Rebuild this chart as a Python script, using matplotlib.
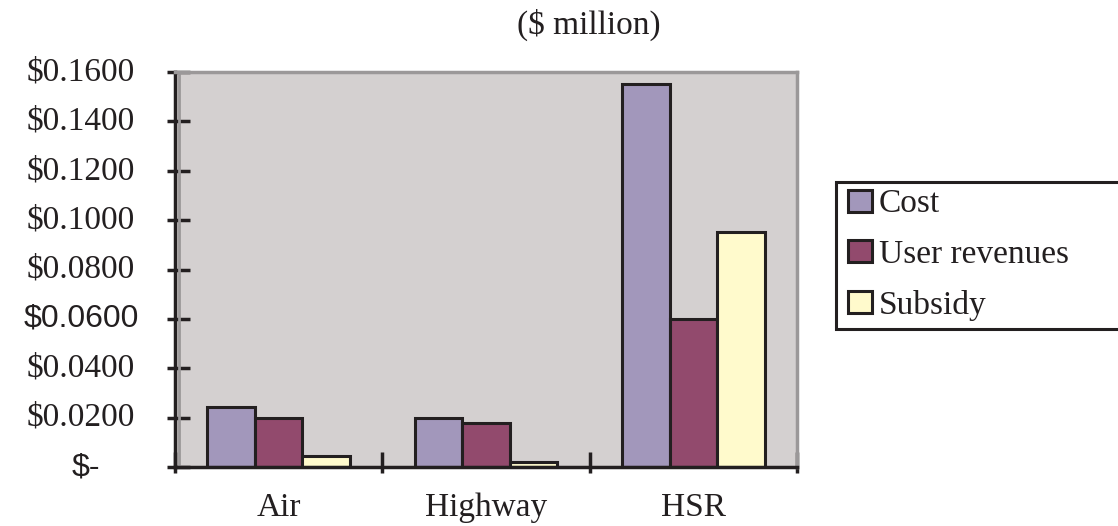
import matplotlib
matplotlib.use("Agg")
import matplotlib.pyplot as plt
import matplotlib.transforms as mtransforms
from matplotlib.patches import Rectangle
import numpy as np

# data ($ million)
categories = ["Air", "Highway", "HSR"]
series = ["Cost", "User revenues", "Subsidy"]
cost = [0.0245, 0.0200, 0.155]
user_revenues = [0.0200, 0.0180, 0.060]
subsidy = [0.0045, 0.0020, 0.095]
yticks = [0.0, 0.02, 0.04, 0.06, 0.08, 0.10, 0.12, 0.14, 0.16]
ytick_labels = ["$-", "$0.0200", "$0.0400", "$0.0600", "$0.0800",
                "$0.1000", "$0.1200", "$0.1400", "$0.1600"]

colors = ["#A297BB", "#924A6D", "#FFFACC"]
ink = "#231F20"
serif = "Liberation Serif"
sans = "Liberation Sans"

fig = plt.figure(figsize=(11.18, 5.26), dpi=100)
ax = fig.add_axes([175 / 1118, 1 - 467 / 526, 622 / 1118, 395 / 526])
ax.set_facecolor("#D4D0D0")

x = np.arange(len(categories))
w = 0.229
for i, (vals, name) in enumerate(zip([cost, user_revenues, subsidy], series)):
    ax.bar(x + (i - 1) * w, vals, w, color=colors[i], edgecolor=ink,
           linewidth=2.2, label=name, zorder=3)

ax.set_xlim(-0.5, 2.5)
ax.set_ylim(0, 0.16)

# spines
for s in ["top", "right"]:
    ax.spines[s].set_color("#9B9899")
    ax.spines[s].set_linewidth(2.5)
for s in ["left", "bottom"]:
    ax.spines[s].set_color(ink)
    ax.spines[s].set_linewidth(2.5)
ax.spines["bottom"].set_zorder(5)
ax.plot([0.006, 0.006], [0, 1], transform=ax.transAxes, color="#9B9899",
        lw=2, zorder=2, clip_on=False)

# y ticks: in + out, labels drawn as text
ax.set_yticks(yticks)
ax.set_yticklabels([])
ax.yaxis.set_minor_locator(matplotlib.ticker.FixedLocator(yticks))
ax.yaxis.remove_overlapping_locs = False
ax.tick_params(axis="y", which="major", direction="in", length=11, width=2.5,
               color=ink)
ax.tick_params(axis="y", which="minor", direction="out", length=6, width=2.5,
               color=ink)
ytrans = mtransforms.blended_transform_factory(ax.transAxes, ax.transData)
for v, lab in zip(yticks, ytick_labels):
    if lab == "$-":
        ax.text(-0.121, v, lab, ha="right", va="center", fontsize=23,
                family=sans, color=ink, transform=ytrans)
    elif lab == "$0.0600":
        ax.text(-0.058, v, lab, ha="right", va="center", fontsize=23,
                family=sans, color=ink, transform=ytrans)
    else:
        ax.text(-0.064, v, lab, ha="right", va="center", fontsize=24,
                family=serif, color=ink, transform=ytrans)

# x ticks at category boundaries, labels at centers
bounds = [-0.5, 0.5, 1.5, 2.5]
ax.set_xticks(bounds)
ax.set_xticklabels([])
ax.xaxis.set_minor_locator(matplotlib.ticker.FixedLocator(bounds))
ax.xaxis.remove_overlapping_locs = False
ax.tick_params(axis="x", which="major", direction="in", length=11, width=2.5,
               color=ink)
ax.tick_params(axis="x", which="minor", direction="out", length=4.5, width=2.5,
               color=ink)
for xi, cat in zip(x, categories):
    ax.text(xi, -0.0166, cat, ha="center", va="center", fontsize=24,
            family=serif, color=ink)

fig.text(589 / 1118, 1 - 25 / 526, "($ million)", ha="center", va="center",
         fontsize=24, family=serif, color=ink)

# legend box runs off the right edge
fig.patches.append(Rectangle((836 / 1118, 1 - 329 / 526), 300 / 1118,
                             147 / 526, transform=fig.transFigure,
                             facecolor="white", edgecolor=ink, lw=2.2,
                             zorder=-1))
leg = ax.legend(loc="upper left", bbox_to_anchor=(848 / 1118, 1 - 189 / 526),
                bbox_transform=fig.transFigure,
                prop={"family": serif, "size": 24}, frameon=False,
                handlelength=0.72, handleheight=0.62, handletextpad=0.2,
                borderpad=0, labelspacing=0.6, borderaxespad=0)
for t in leg.get_texts():
    t.set_color(ink)

fig.savefig("out.png", dpi=100)
